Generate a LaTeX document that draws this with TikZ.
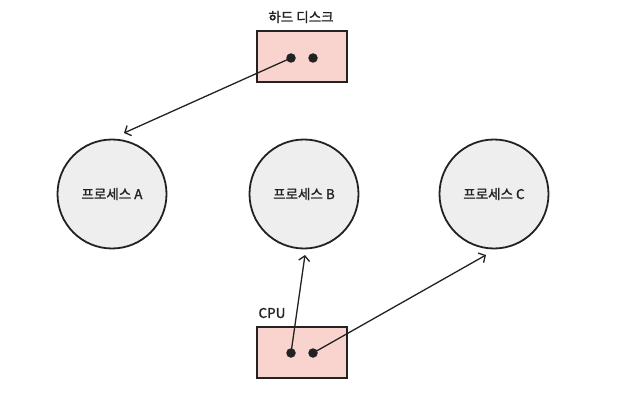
\documentclass[tikz,border=0pt]{standalone}
\usepackage{fontspec}
\setmainfont{Noto Sans CJK KR}
\newfontfamily\krfont[FakeBold=1.3]{Noto Sans CJK KR}
\usetikzlibrary{arrows.meta}
\definecolor{ink}{HTML}{222222}
\definecolor{boxpink}{HTML}{F9D4CF}
\definecolor{procgray}{HTML}{EEEEEE}
\begin{document}
\begin{tikzpicture}[x=1pt,y=-1pt,
  proc/.style={circle,draw=ink,line width=1.8pt,fill=procgray,minimum size=109pt,inner sep=0pt,font=\krfont\fontsize{13.5}{15}\selectfont,text=ink},
  hw/.style={draw=ink,line width=1.5pt,fill=boxpink,minimum width=90pt,minimum height=51pt,inner sep=0pt},
  pin/.style={circle,fill=ink,inner sep=0pt,minimum size=9.5pt},
  lbl/.style={font=\krfont\fontsize{13.5}{15}\selectfont,text=ink},
  link/.style={draw=ink,line width=1.3pt,-{Straight Barb[length=5pt,width=11pt]}}]
\useasboundingbox (0,0) rectangle (621,401);
\fill[white] (0,0) rectangle (621,401);
% processes
\node[proc] (A) at (112,194) {프로세스 A};
\node[proc] (B) at (304,194) {프로세스 B};
\node[proc] (C) at (494,194) {프로세스 C};
% hard disk
\node[hw] (disk) at (302,56.5) {};
\node[lbl] (disklbl) at (301,17) {하드 디스크};
\node[pin] (d1) at (291,58) {};
\node[pin] (d2) at (313,58) {};
% cpu
\node[hw] (cpu) at (302,352.5) {};
\node[lbl,anchor=west] (cpulbl) at (255,313) {CPU};
\node[pin] (c1) at (291,353) {};
\node[pin] (c2) at (313,353) {};
% arrow ends
\coordinate (tA) at (124,133);
\coordinate (tB) at (305,255);
\coordinate (tC) at (486,255);
\draw[link] (d1.center) -- (tA);
\draw[link] (c1.center) -- (tB);
\draw[link] (c2.center) -- (tC);
\end{tikzpicture}
\end{document}
